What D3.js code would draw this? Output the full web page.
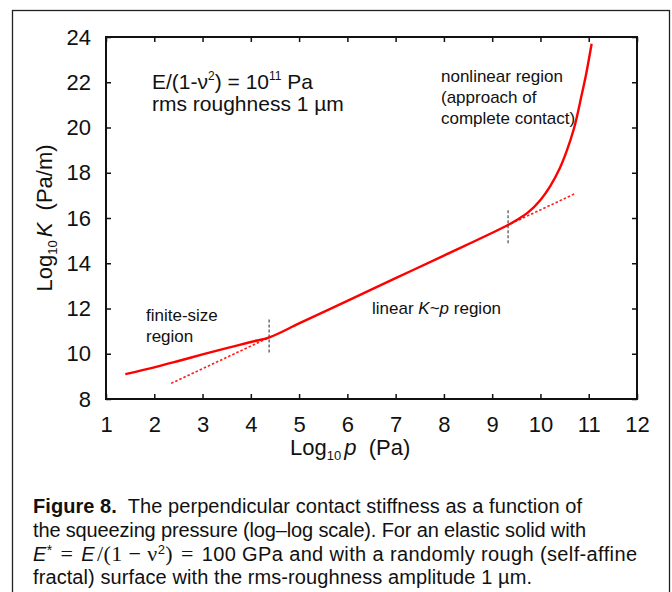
<!DOCTYPE html>
<html lang="en">
<head>
    <meta charset="UTF-8">
    <script src="https://d3js.org/d3.v7.min.js"></script>
    <style>
        body {
            margin: 0;
            background-color: #ffffff;
            font-family: "Liberation Sans", Arial, sans-serif;
        }
        svg text { fill: #111; }
    </style>
</head>
<body>
    <svg id="graph"></svg>

    <script>
        // log10 p (Pa) and log10 K (Pa/m)
        const logP = [1.4, 2.0, 2.5, 3.0, 3.5, 4.0, 4.4, 5, 6, 7, 8, 9.3, 9.5, 9.75, 10.0, 10.2, 10.4, 10.55, 10.7, 10.85, 10.95, 11.06];
        const logK = [9.10, 9.40, 9.68, 9.97, 10.25, 10.52, 10.74, 11.34, 12.34, 13.34, 14.34, 15.66, 15.90, 16.26, 16.80, 17.40, 18.2, 19.0, 20.0, 21.4, 22.4, 23.7];

        // dotted extensions of the linear K~p law
        const lowFitP = [2.35, 4.4];
        const lowFitK = [8.69, 10.74];
        const highFitP = [9.3, 10.7];
        const highFitK = [15.66, 17.06];

        // grey dashed region markers: [logP, from logK, to logK]
        const markers = [[4.38, 10.05, 11.52], [9.33, 14.88, 16.38]];

        const xTicks = [1, 2, 3, 4, 5, 6, 7, 8, 9, 10, 11, 12];
        const yTicks = [8, 10, 12, 14, 16, 18, 20, 22, 24];

        const svgWidth = 672;
        const svgHeight = 592;

        const svg = d3.select("#graph")
            .attr("width", svgWidth)
            .attr("height", svgHeight);

        // outer figure frame
        svg.append("rect")
            .attr("x", 12.5).attr("y", 10.5)
            .attr("width", 657).attr("height", 600)
            .attr("fill", "none").attr("stroke", "#222").attr("stroke-width", 1.3);

        const x = d3.scaleLinear().domain([1, 12]).range([106, 637]);
        const y = d3.scaleLinear().domain([8, 24]).range([399, 37]);

        const tickFont = "22px";

        // axes, ticks point inward
        svg.append("g")
            .attr("transform", `translate(0,${y(8)})`)
            .call(d3.axisBottom(x).tickValues(xTicks).tickSize(-5).tickSizeOuter(0).tickPadding(17));
        svg.append("g")
            .attr("transform", `translate(${x(1)},0)`)
            .call(d3.axisLeft(y).tickValues(yTicks).tickSize(-5).tickSizeOuter(0).tickPadding(15));
        svg.append("g")
            .attr("transform", `translate(0,${y(24)})`)
            .call(d3.axisTop(x).tickValues(xTicks).tickSize(-5).tickSizeOuter(0).tickFormat(""));
        svg.append("g")
            .attr("transform", `translate(${x(12)},0)`)
            .call(d3.axisRight(y).tickValues(yTicks).tickSize(-5).tickSizeOuter(0).tickFormat(""));

        svg.selectAll(".domain").remove();
        svg.selectAll(".tick line").attr("stroke", "#111").attr("stroke-width", 1.5);
        svg.selectAll(".tick text")
            .style("font-size", tickFont)
            .style("font-family", '"Liberation Sans", Arial, sans-serif')
            .attr("fill", "#111");

        // plot frame
        svg.append("rect")
            .attr("x", x(1)).attr("y", y(24))
            .attr("width", x(12) - x(1)).attr("height", y(8) - y(24))
            .attr("fill", "none").attr("stroke", "#111").attr("stroke-width", 2);

        // axis titles
        const xt = svg.append("text")
            .attr("x", 290).attr("y", 455)
            .style("font-size", "22px")
            .style("white-space", "pre");
        xt.append("tspan").text("Log");
        xt.append("tspan").text("10").style("font-size", "13px").attr("dy", 5);
        xt.append("tspan").text("p").style("font-style", "italic").attr("dy", -5).attr("dx", 3);
        xt.append("tspan").text("  (Pa)");

        const yt = svg.append("text")
            .attr("transform", `translate(52,${(y(8) + y(24)) / 2}) rotate(-90)`)
            .attr("text-anchor", "middle")
            .style("font-size", "22px")
            .style("white-space", "pre");
        yt.append("tspan").text("Log");
        yt.append("tspan").text("10").style("font-size", "13px").attr("dy", 5);
        yt.append("tspan").text("K").style("font-style", "italic").attr("dy", -5).attr("dx", 3);
        yt.append("tspan").text("  (Pa/m)");

        // curve and fits
        const line = d3.line()
            .x(d => x(d[0]))
            .y(d => y(d[1]))
            .curve(d3.curveCatmullRom.alpha(0.5));

        const curveData = logP.map((p, i) => [p, logK[i]]);

        svg.append("path")
            .datum(lowFitP.map((p, i) => [p, lowFitK[i]]))
            .attr("d", line)
            .attr("fill", "none").attr("stroke", "#ff1a1a")
            .attr("stroke-width", 1.6).attr("stroke-dasharray", "2.5,2");
        svg.append("path")
            .datum(highFitP.map((p, i) => [p, highFitK[i]]))
            .attr("d", line)
            .attr("fill", "none").attr("stroke", "#ff1a1a")
            .attr("stroke-width", 1.6).attr("stroke-dasharray", "2.5,2");

        svg.selectAll(".marker")
            .data(markers)
            .enter().append("line")
            .attr("class", "marker")
            .attr("x1", d => x(d[0])).attr("x2", d => x(d[0]))
            .attr("y1", d => y(d[1])).attr("y2", d => y(d[2]))
            .attr("stroke", "#777").attr("stroke-width", 1.6)
            .attr("stroke-dasharray", "3,2");

        svg.append("path")
            .datum(curveData)
            .attr("d", line)
            .attr("fill", "none").attr("stroke", "#ff0000")
            .attr("stroke-width", 2.4);

        // annotations
        const t1 = svg.append("text").attr("x", 152).attr("y", 89).style("font-size", "21px");
        t1.append("tspan").text("E/(1-\u03bd");
        t1.append("tspan").text("2").style("font-size", "12px").attr("dy", -9);
        t1.append("tspan").text(") = 10").attr("dy", 9);
        t1.append("tspan").text("11").style("font-size", "12px").attr("dy", -9);
        t1.append("tspan").text(" Pa").attr("dy", 9);
        svg.append("text").attr("x", 152).attr("y", 111).style("font-size", "21px")
            .text("rms roughness 1 \u00b5m");

        const nl = ["nonlinear region", "(approach of", "complete contact)"];
        svg.selectAll(".nl").data(nl).enter().append("text")
            .attr("x", 441).attr("y", (d, i) => 82 + i * 21)
            .style("font-size", "17px").text(d => d);

        const fs = ["finite-size", "region"];
        svg.selectAll(".fs").data(fs).enter().append("text")
            .attr("x", 146).attr("y", (d, i) => 321 + i * 21)
            .style("font-size", "17px").text(d => d);

        const lin = svg.append("text").attr("x", 372).attr("y", 314).style("font-size", "17px");
        lin.append("tspan").text("linear ");
        lin.append("tspan").text("K").style("font-style", "italic");
        lin.append("tspan").text("~");
        lin.append("tspan").text("p").style("font-style", "italic");
        lin.append("tspan").text(" region");

        // caption
        const capSize = "20px";
        const serif = '"Liberation Serif", serif';
        const c1 = svg.append("text").attr("x", 33).attr("y", 513).style("font-size", capSize).style("white-space", "pre")
            .attr("textLength", 549).attr("lengthAdjust", "spacing");
        c1.append("tspan").text("Figure 8.").style("font-weight", "bold");
        c1.append("tspan").text("  The perpendicular contact stiffness as a function of");
        svg.append("text").attr("x", 33).attr("y", 537).style("font-size", capSize)
            .attr("textLength", 553).attr("lengthAdjust", "spacing")
            .text("the squeezing pressure (log\u2013log scale). For an elastic solid with");
        const c3 = svg.append("text").attr("x", 33).attr("y", 561).style("font-size", capSize).style("white-space", "pre")
            .attr("textLength", 604).attr("lengthAdjust", "spacing");
        c3.append("tspan").text("E").style("font-style", "italic");
        c3.append("tspan").text("*").attr("dy", -6).style("font-size", "14px");
        c3.append("tspan").text("=").attr("dy", 6).attr("dx", 8).style("font-family", serif).style("font-size", "22px");
        c3.append("tspan").text("E").attr("dx", 8).style("font-style", "italic");
        c3.append("tspan").text("/(1").attr("dx", 2).style("font-family", serif).style("font-size", "22px");
        c3.append("tspan").text("\u2212").attr("dx", 6).style("font-family", serif).style("font-size", "22px");
        c3.append("tspan").text("\u03bd").attr("dx", 6).style("font-family", serif).style("font-size", "22px");
        c3.append("tspan").text("2").attr("dy", -7).style("font-size", "13px");
        c3.append("tspan").text(")").attr("dy", 7).style("font-family", serif).style("font-size", "22px");
        c3.append("tspan").text("=").attr("dx", 8).style("font-family", serif).style("font-size", "22px");
        c3.append("tspan").text("100 GPa and with a randomly rough (self-affine").attr("dx", 8);
        svg.append("text").attr("x", 33).attr("y", 584).style("font-size", capSize)
            .attr("textLength", 499).attr("lengthAdjust", "spacing")
            .text("fractal) surface with the rms-roughness amplitude 1 \u00b5m.");
    </script>
</body>
</html>
